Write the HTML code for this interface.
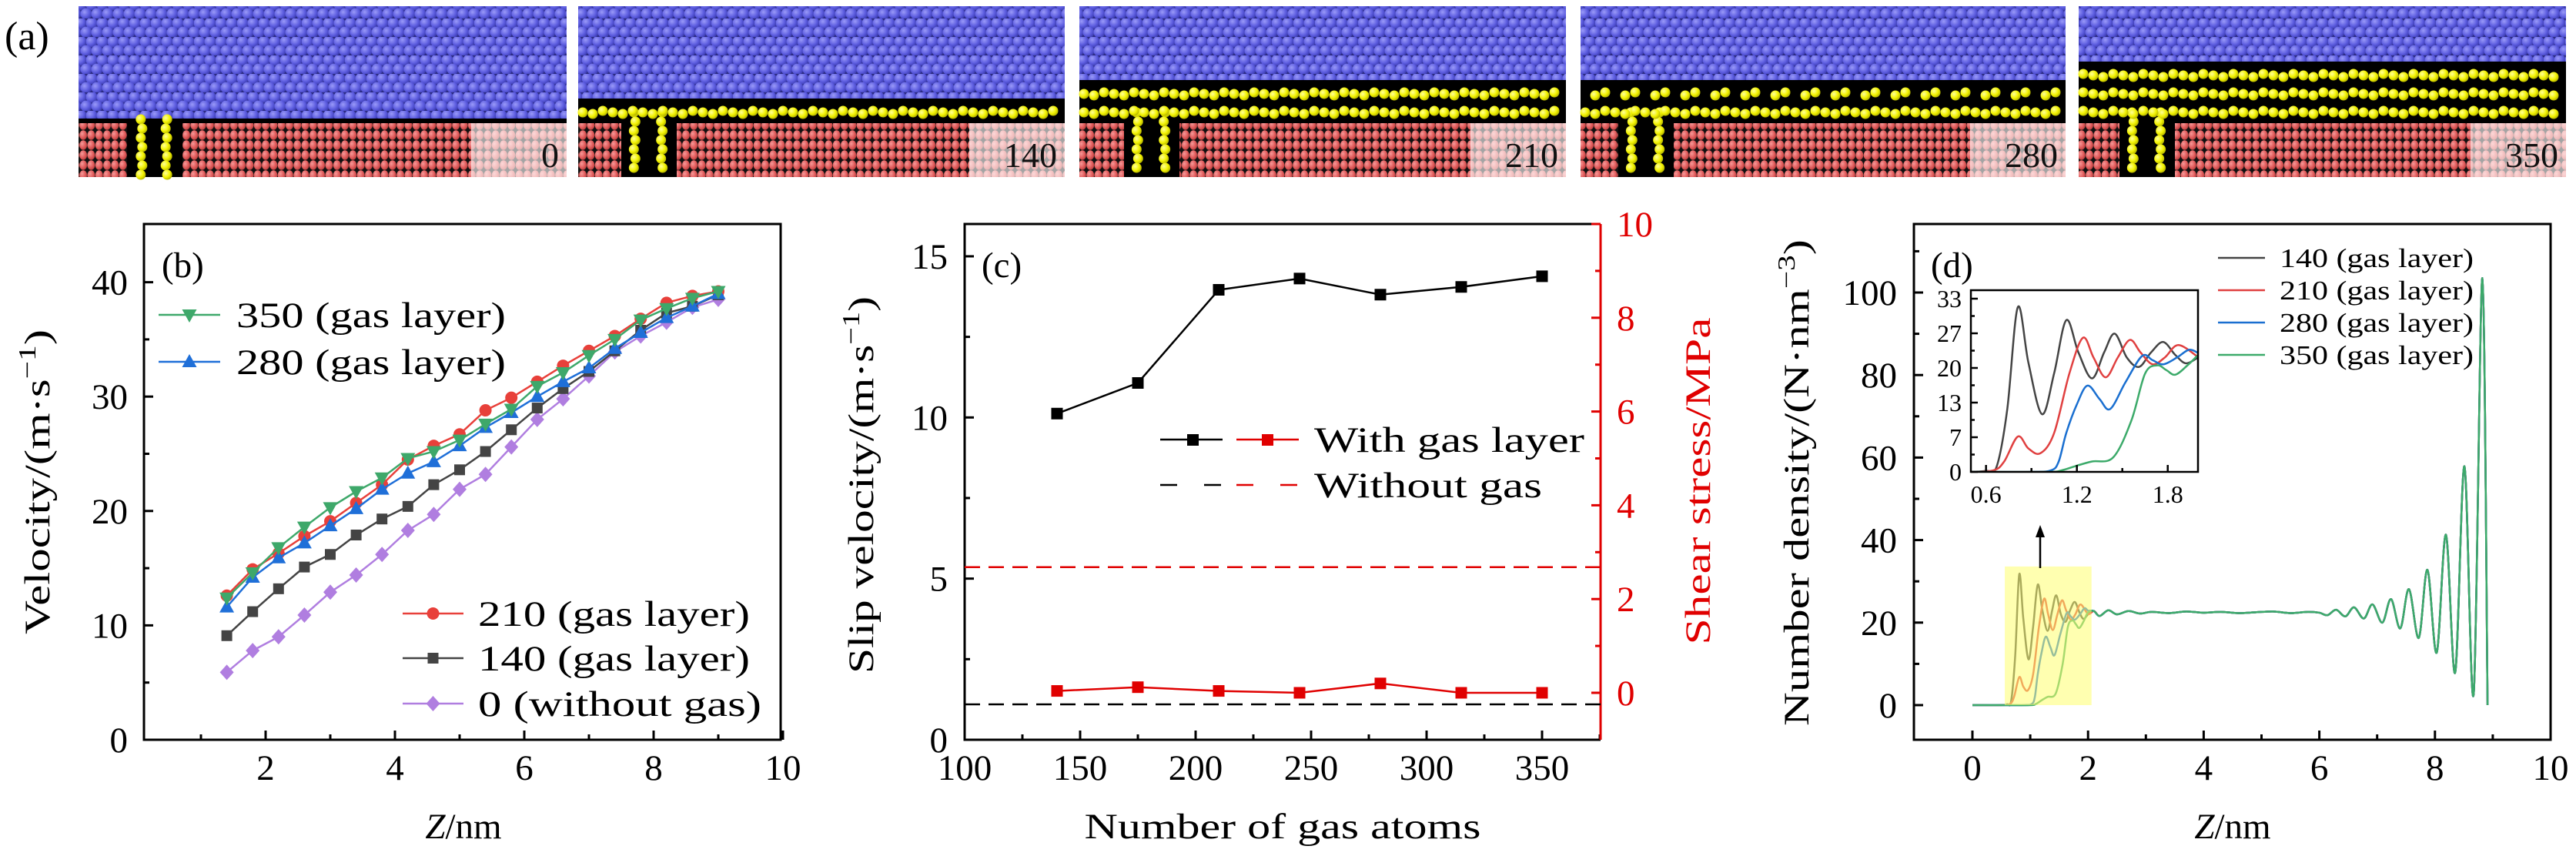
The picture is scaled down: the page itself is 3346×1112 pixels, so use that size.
<!DOCTYPE html>
<html><head><meta charset="utf-8">
<style>
html,body{margin:0;padding:0;background:#fff;}
svg{display:block;font-family:"Liberation Serif",serif;}
text{font-family:"Liberation Serif",serif;}
</style></head>
<body>
<svg id="fig" xmlns="http://www.w3.org/2000/svg" width="3346" height="1112" viewBox="0 0 3346 1112" font-family="Liberation Serif, serif">
<defs>
  <radialGradient id="gBlue" cx="0.35" cy="0.35" r="0.7"><stop offset="0" stop-color="#9a9af8"/><stop offset="0.6" stop-color="#5d5de0"/><stop offset="1" stop-color="#3b3bb0"/></radialGradient>
  <radialGradient id="gRed" cx="0.35" cy="0.35" r="0.7"><stop offset="0" stop-color="#f59a9a"/><stop offset="0.6" stop-color="#e25c5c"/><stop offset="1" stop-color="#b84040"/></radialGradient>
  <radialGradient id="gYel" cx="0.35" cy="0.35" r="0.7"><stop offset="0" stop-color="#ffff9a"/><stop offset="0.6" stop-color="#f2f200"/><stop offset="1" stop-color="#b0b000"/></radialGradient>
  <pattern id="pBlue" width="28" height="24" patternUnits="userSpaceOnUse">
    <rect width="28" height="24" fill="#2a2a80"/>
    <circle cx="7" cy="6" r="7.5" fill="url(#gBlue)"/><circle cx="21" cy="6" r="7.5" fill="url(#gBlue)"/>
    <circle cx="0" cy="18" r="7.5" fill="url(#gBlue)"/><circle cx="14" cy="18" r="7.5" fill="url(#gBlue)"/><circle cx="28" cy="18" r="7.5" fill="url(#gBlue)"/>
  </pattern>
  <pattern id="pRed" width="10.3" height="13" patternUnits="userSpaceOnUse">
    <rect width="10.3" height="13" fill="#111"/>
    <ellipse cx="5.15" cy="6.5" rx="5" ry="6.2" fill="url(#gRed)"/>
  </pattern>
  <clipPath id="clipB"><rect x="187" y="291" width="827" height="670"/></clipPath>
  <clipPath id="clipD"><rect x="2486" y="291" width="827" height="670"/></clipPath>
  <clipPath id="clipI"><rect x="2560" y="377" width="295" height="236"/></clipPath>
</defs>
<g id="panelA"></g>
<g id="panelB"></g>
<g id="panelC"></g>
<g id="panelD"></g>
</svg>
<script>
// ---------- Panel (b) data ----------
const bZ = [1.4,1.8,2.2,2.6,3.0,3.4,3.8,4.2,4.6,5.0,5.4,5.8,6.2,6.6,7.0,7.4,7.8,8.2,8.6,9.0];
const b0 = [5.9,7.8,9.0,10.9,12.9,14.4,16.2,18.3,19.7,21.9,23.2,25.6,28.0,29.8,31.8,33.9,35.3,36.5,37.8,38.5];
const b140 = [9.1,11.2,13.2,15.1,16.2,17.9,19.3,20.4,22.3,23.6,25.2,27.1,29.0,30.7,32.2,34.0,35.8,37.3,37.9,38.9];
const b210 = [12.6,14.9,16.3,17.8,19.1,20.7,22.3,24.5,25.7,26.7,28.8,29.9,31.3,32.7,34.0,35.3,36.8,38.2,38.8,39.2];
const b280 = [11.6,14.2,15.9,17.2,18.7,20.2,21.9,23.3,24.3,25.7,27.3,28.6,30.0,31.3,32.5,34.2,35.6,36.9,37.9,39.0];
const b350 = [12.4,14.6,16.8,18.6,20.3,21.7,22.9,24.6,25.2,26.2,27.6,28.9,30.9,32.1,33.6,35.0,36.7,37.7,38.6,39.2];
const bXTicks = [2,4,6,8,10];
const bYTicks = [0,10,20,30,40];
// ---------- Panel (c) data ----------
const cAtoms = [140,175,210,245,280,315,350];
const cSlip = [10.12,11.07,13.96,14.31,13.81,14.05,14.38];
const cStress = [0.04,0.12,0.04,0.0,0.2,0.0,0.0];
const cSlipNoGas = 1.1;
const cStressNoGas = 2.68;
const cXTicks = [100,150,200,250,300,350];
const cYTicks = [0,5,10,15];
const cY2Ticks = [0,2,4,6,8,10];
// ---------- Panel (d) data ----------
const i140z = [0.5,0.6,0.67,0.74,0.81,0.88,0.97,1.05,1.13,1.21,1.30,1.38,1.45,1.53,1.61,1.69,1.77,1.85,1.92,2.0];
const i140v = [0,0.2,1,12,31.7,21,11.1,19,29.2,23,18,23,26.6,22,20.2,23,25,22.5,20.9,22];
const i210z = [0.5,0.65,0.72,0.81,0.88,0.96,1.05,1.15,1.24,1.31,1.39,1.47,1.55,1.62,1.70,1.78,1.87,2.0];
const i210v = [0,0.3,2,6.8,4.5,3.6,7.5,18.9,25.8,22,18.2,22,25.4,23,20.7,22,24.4,22.1];
const i280z = [0.5,0.9,1.03,1.08,1.13,1.2,1.27,1.35,1.42,1.52,1.63,1.70,1.77,1.86,1.94,2.0];
const i280v = [0,0,0.3,2,7.5,13,16.6,14,12.1,17.2,22.3,21.5,20.7,22,23.5,22.9];
const i350z = [0.5,1.0,1.1,1.2,1.3,1.44,1.56,1.65,1.73,1.79,1.85,1.93,2.0];
const i350v = [0,0,0.3,1.2,2.0,2.8,9.9,18.9,20.5,19.6,18.7,20.5,22.5];
const bulkZ = [2.1,2.2,2.35,2.5,2.7,2.9,3.1,3.4,3.7,4.0,4.3,4.6,4.9,5.2,5.5,5.8,6.0,6.14,6.29,6.45,6.6,6.77,6.92,7.09,7.24,7.40,7.55,7.72,7.87,8.03,8.19,8.35,8.51,8.67,8.82,8.91];
const bulkV = [22.8,21.6,23.0,22.0,22.8,22.2,22.6,22.3,22.7,22.4,22.6,22.3,22.5,22.7,22.3,22.6,22.4,21.8,23.1,21.5,23.7,21.0,24.4,20.0,25.7,18.6,28.1,16.3,32.8,12.7,41.3,7.9,57.9,2.8,103.5,0];
const dXTicks = [0,2,4,6,8,10];
const dYTicks = [0,20,40,60,80,100];
const iXTicks = [0.6,1.2,1.8];
const iYTicks = [0,6.667,13.333,20,26.667,33.333];
const iYLabels = ["0","7","13","20","27","33"];
// ---------- Panel (a) data ----------
const aLabels = ["0","140","210","280","350"];
const aLayers = [0,1,2,2,3];

const NS = "http://www.w3.org/2000/svg";
function mk(tag, attrs, parent){
  const e = document.createElementNS(NS, tag);
  for (const k in attrs) e.setAttribute(k, attrs[k]);
  parent.appendChild(e);
  return e;
}
function txt(str, attrs, parent){
  const e = mk("text", attrs, parent);
  e.textContent = str;
  return e;
}
function smoothPath(pts){
  if (pts.length < 2) return "";
  let d = "M" + pts[0][0].toFixed(2) + "," + pts[0][1].toFixed(2);
  for (let i = 0; i < pts.length - 1; i++){
    const p0 = pts[Math.max(0,i-1)], p1 = pts[i], p2 = pts[i+1], p3 = pts[Math.min(pts.length-1,i+2)];
    const c1x = p1[0] + (p2[0]-p0[0])/6, c1y = p1[1] + (p2[1]-p0[1])/6;
    const c2x = p2[0] - (p3[0]-p1[0])/6, c2y = p2[1] - (p3[1]-p1[1])/6;
    d += " C" + c1x.toFixed(2) + "," + c1y.toFixed(2) + " " + c2x.toFixed(2) + "," + c2y.toFixed(2) + " " + p2[0].toFixed(2) + "," + p2[1].toFixed(2);
  }
  return d;
}

/* ================= PANEL A ================= */
(function(){
  const g = document.getElementById("panelA");
  const lab = txt("(a)", {x: 6, y: 64, "font-size": 52}, g);
  
  
  const x0s = [102, 751, 1402, 2053, 2700];
  const ws = [634, 632, 632, 630, 633];
  const slots = [63, 56, 58, 49, 53];
  const top = 8, bot = 230, redTop = 160;
  for (let p = 0; p < 5; p++){
    const x0 = x0s[p], w = ws[p];
    const sg = mk("g", {}, g);
    
    
    mk("rect", {x: x0, y: top, width: w, height: bot-top, fill: "#000"}, sg);
    const nl = aLayers[p];
    const blueBot = nl === 0 ? 154 : 146 - nl*24 + 6;
    const blue = mk("rect", {x: x0, y: top, width: w, height: blueBot-top, fill: "url(#pBlue)"}, sg);
    
    
    const sx = x0 + slots[p], sw = 72;
    const r1 = mk("rect", {x: x0, y: redTop, width: slots[p], height: bot-redTop, fill: "url(#pRed)"}, sg);
    
    
    const r2 = mk("rect", {x: sx+sw, y: redTop, width: w-slots[p]-sw, height: bot-redTop, fill: "url(#pRed)"}, sg);
    
    
    const yg = mk("g", {fill: "url(#gYel)"}, sg);
    
    
    const yTopCol = nl === 0 ? 155 : 146;
    for (let yy = yTopCol; yy < bot; yy += 12){
      mk("circle", {cx: sx+16 + ((yy/12)%2)*2, cy: yy, r: 6.5}, yg);
      mk("circle", {cx: sx+sw-18 - ((yy/12)%2)*2, cy: yy, r: 6.5}, yg);
    }
    for (let L = 0; L < nl; L++){
      const ry = 146 - L*24;
      for (let xx = x0+6; xx < x0+w-4; xx += 13){
        if (p === 3 && L === 1 && ((xx - x0) % 39) < 13) continue;
        mk("circle", {cx: xx, cy: ry + ((Math.round(xx)%3)-1)*2, r: 6.5}, yg);
      }
    }
    const bx = mk("rect", {x: x0+w-124, y: redTop, width: 124, height: bot-redTop, fill: "#fff", "fill-opacity": 0.62}, sg);
    
    
    const t = txt(aLabels[p], {x: x0+w-10, y: 217, "font-size": 46, "text-anchor": "end", fill: "#111"}, sg);
    
    
  }
})();

/* ================= PANEL B ================= */
(function(){
  const g = document.getElementById("panelB");
  const xb = v => 177 + v*84;
  const yb = v => 961 - v*14.86;
  const L = 187, R = 1014, T = 291, B = 961;
  const ax = mk("g", {stroke: "#000", "stroke-width": 3, fill: "none"}, g);
  
  
  mk("rect", {x: L, y: T, width: R-L, height: B-T}, ax);
  for (let v = 1; v <= 10; v++){
    const x = xb(v); const len = v % 2 === 0 ? 12 : 7;
    mk("line", {x1: x, y1: B, x2: x, y2: B-len}, ax);
  }
  for (let v = 5; v <= 40; v += 5){
    const y = yb(v); const len = v % 10 === 0 ? 12 : 7;
    mk("line", {x1: L, y1: y, x2: L+len, y2: y}, ax);
  }
  for (const v of bXTicks){
    const t = txt(String(v), {x: xb(v), y: 1013, "font-size": 47, "text-anchor": "middle"}, g);
    
    
  }
  for (const v of bYTicks){
    const t = txt(String(v), {x: 166, y: yb(v)+16, "font-size": 47, "text-anchor": "end"}, g);
    
    
  }
  const xt = txt("", {x: 602, y: 1089, "font-size": 47, "text-anchor": "middle"}, g);
  xt.innerHTML = '<tspan font-style="italic">Z</tspan>/nm';
  
  
  const yt = txt("", {x: 0, y: 0, "font-size": 47, "text-anchor": "middle", transform: "translate(64,626) rotate(-90)", textLength: 396, lengthAdjust: "spacingAndGlyphs"}, g);
  yt.innerHTML = 'Velocity/(m·s<tspan dy="-18" font-size="32">−1</tspan><tspan dy="18">)</tspan>';
  
  
  const pl = txt("(b)", {x: 210, y: 360, "font-size": 47}, g);
  
  

  function marker(parent, shape, x, y, color){
    let e;
    if (shape === "circle") e = mk("circle", {cx: x, cy: y, r: 8, fill: color}, parent);
    else if (shape === "square") e = mk("rect", {x: x-7, y: y-7, width: 14, height: 14, fill: color}, parent);
    else if (shape === "tri-up") e = mk("polygon", {points: `${x},${y-10} ${x+9.5},${y+7} ${x-9.5},${y+7}`, fill: color}, parent);
    else if (shape === "tri-down") e = mk("polygon", {points: `${x},${y+10} ${x+9.5},${y-7} ${x-9.5},${y-7}`, fill: color}, parent);
    else e = mk("polygon", {points: `${x},${y-10} ${x+9},${y} ${x},${y+10} ${x-9},${y}`, fill: color}, parent);
    return e;
  }
  const series = [
    {name: "series-0", vals: b0, color: "#b07ee0", shape: "diamond"},
    {name: "series-140", vals: b140, color: "#444444", shape: "square"},
    {name: "series-210", vals: b210, color: "#e8403a", shape: "circle"},
    {name: "series-280", vals: b280, color: "#1f6fd8", shape: "tri-up"},
    {name: "series-350", vals: b350, color: "#3ea86a", shape: "tri-down"}
  ];
  const plot = mk("g", {"clip-path": "url(#clipB)"}, g);
  for (const s of series){
    const sg = mk("g", {}, plot);
    
    
    const pts = bZ.map((z,i) => xb(z).toFixed(1) + "," + yb(s.vals[i]).toFixed(1)).join(" ");
    const ln = mk("polyline", {points: pts, fill: "none", stroke: s.color, "stroke-width": 2.5}, sg);
    
    
    bZ.forEach((z,i) => {
      const m = marker(sg, s.shape, xb(z), yb(s.vals[i]), s.color);
      
      
    });
  }
  const legends = [
    {s: series[4], y: 409, x1: 206, x2: 286, tx: 307, label: "350 (gas layer)", len: 350},
    {s: series[3], y: 470, x1: 206, x2: 286, tx: 307, label: "280 (gas layer)", len: 350},
    {s: series[2], y: 797, x1: 523, x2: 602, tx: 621, label: "210 (gas layer)", len: 353},
    {s: series[1], y: 855, x1: 523, x2: 602, tx: 621, label: "140 (gas layer)", len: 353},
    {s: series[0], y: 914, x1: 523, x2: 602, tx: 621, label: "0 (without gas)", len: 368}
  ];
  for (const l of legends){
    const lg = mk("g", {}, g);
    
    
    mk("line", {x1: l.x1, y1: l.y, x2: l.x2, y2: l.y, stroke: l.s.color, "stroke-width": 2.5}, lg);
    marker(lg, l.s.shape, (l.x1+l.x2)/2, l.y, l.s.color);
    txt(l.label, {x: l.tx, y: l.y+16, "font-size": 47, textLength: l.len, lengthAdjust: "spacingAndGlyphs"}, lg);
  }
})();

/* ================= PANEL C ================= */
(function(){
  const g = document.getElementById("panelC");
  const xc = v => 1253 + (v-100)*3.0;
  const yl = v => 961 - v*41.87;
  const yr = v => 900 - v*60.9;
  const L = 1253, R = 2079, T = 291, B = 961;
  const ax = mk("g", {stroke: "#000", "stroke-width": 3, fill: "none"}, g);
  
  
  mk("polyline", {points: `${R},${T} ${L},${T} ${L},${B} ${R},${B}`}, ax);
  for (let v = 125; v <= 375; v += 25){
    const x = xc(v); const len = v % 50 === 0 ? 12 : 7;
    mk("line", {x1: x, y1: B, x2: x, y2: B-len}, ax);
  }
  for (let v = 2.5; v <= 15; v += 2.5){
    const y = yl(v); const len = v % 5 === 0 ? 12 : 7;
    mk("line", {x1: L, y1: y, x2: L+len, y2: y}, ax);
  }
  const rax = mk("g", {stroke: "#e00000", "stroke-width": 3, fill: "none"}, g);
  
  
  mk("line", {x1: R, y1: T, x2: R, y2: B}, rax);
  for (let v = 0; v <= 10; v += 1){
    const y = yr(v); const len = v % 2 === 0 ? 12 : 7;
    mk("line", {x1: R, y1: y, x2: R-len, y2: y}, rax);
  }
  for (const v of cXTicks){
    const t = txt(String(v), {x: xc(v), y: 1013, "font-size": 47, "text-anchor": "middle"}, g);
    
    
  }
  for (const v of cYTicks){
    const t = txt(String(v), {x: 1231, y: yl(v)+16, "font-size": 47, "text-anchor": "end"}, g);
    
    
  }
  for (const v of cY2Ticks){
    const t = txt(String(v), {x: 2100, y: yr(v)+16, "font-size": 47, fill: "#e00000"}, g);
    
    
  }
  const xt = txt("Number of gas atoms", {x: 1666, y: 1089, "font-size": 47, "text-anchor": "middle", textLength: 515, lengthAdjust: "spacingAndGlyphs"}, g);
  
  
  const yt = txt("", {x: 0, y: 0, "font-size": 47, "text-anchor": "middle", transform: "translate(1134,630) rotate(-90)", textLength: 490, lengthAdjust: "spacingAndGlyphs"}, g);
  yt.innerHTML = 'Slip velocity/(m·s<tspan dy="-18" font-size="32">−1</tspan><tspan dy="18">)</tspan>';
  
  
  const yt2 = txt("Shear stress/MPa", {x: 0, y: 0, "font-size": 47, "text-anchor": "middle", fill: "#e00000", transform: "translate(2221,625) rotate(-90)", textLength: 425, lengthAdjust: "spacingAndGlyphs"}, g);
  
  
  const pl = txt("(c)", {x: 1275, y: 360, "font-size": 47}, g);
  
  

  const d1 = mk("line", {x1: L, y1: yl(cSlipNoGas), x2: R, y2: yl(cSlipNoGas), stroke: "#000", "stroke-width": 2.5, "stroke-dasharray": "20 11"}, g);
  
  
  const d2 = mk("line", {x1: L, y1: yr(cStressNoGas), x2: R, y2: yr(cStressNoGas), stroke: "#e00000", "stroke-width": 2.5, "stroke-dasharray": "20 11"}, g);
  
  

  const sBlack = mk("g", {}, g);
  
  
  mk("polyline", {points: cAtoms.map((a,i)=>xc(a)+","+yl(cSlip[i])).join(" "), fill: "none", stroke: "#000", "stroke-width": 2.5}, sBlack);
  cAtoms.forEach((a,i) => {
    const m = mk("rect", {x: xc(a)-7.5, y: yl(cSlip[i])-7.5, width: 15, height: 15, fill: "#000"}, sBlack);
    
    
  });
  const sRed = mk("g", {}, g);
  
  
  mk("polyline", {points: cAtoms.map((a,i)=>xc(a)+","+yr(cStress[i])).join(" "), fill: "none", stroke: "#e00000", "stroke-width": 2.5}, sRed);
  cAtoms.forEach((a,i) => {
    const m = mk("rect", {x: xc(a)-7.5, y: yr(cStress[i])-7.5, width: 15, height: 15, fill: "#e00000"}, sRed);
    
    
  });
  const lg1 = mk("g", {}, g);
  
  
  mk("line", {x1: 1507, y1: 571, x2: 1588, y2: 571, stroke: "#000", "stroke-width": 2.5}, lg1);
  mk("rect", {x: 1542, y: 564, width: 15, height: 15, fill: "#000"}, lg1);
  mk("line", {x1: 1606, y1: 571, x2: 1687, y2: 571, stroke: "#e00000", "stroke-width": 2.5}, lg1);
  mk("rect", {x: 1639, y: 564, width: 15, height: 15, fill: "#e00000"}, lg1);
  txt("With gas layer", {x: 1707, y: 587, "font-size": 47, textLength: 351, lengthAdjust: "spacingAndGlyphs"}, lg1);
  const lg2 = mk("g", {}, g);
  
  
  mk("line", {x1: 1507, y1: 630, x2: 1588, y2: 630, stroke: "#000", "stroke-width": 2.5, "stroke-dasharray": "22 35"}, lg2);
  mk("line", {x1: 1606, y1: 630, x2: 1687, y2: 630, stroke: "#e00000", "stroke-width": 2.5, "stroke-dasharray": "22 35"}, lg2);
  txt("Without gas", {x: 1707, y: 646, "font-size": 47, textLength: 296, lengthAdjust: "spacingAndGlyphs"}, lg2);
})();

/* ================= PANEL D ================= */
(function(){
  const g = document.getElementById("panelD");
  const xd = v => 2562 + v*75.1;
  const yd = v => 916 - v*5.36;
  const xi = v => 2560 + (v-0.5)*196.7;
  const yi = v => 613 - v*6.75;
  const L = 2486, R = 3313, T = 291, B = 961;
  const ax = mk("g", {stroke: "#000", "stroke-width": 3, fill: "none"}, g);
  
  
  mk("rect", {x: L, y: T, width: R-L, height: B-T}, ax);
  for (let v = 0; v <= 9; v++){
    const x = xd(v); const len = v % 2 === 0 ? 12 : 7;
    mk("line", {x1: x, y1: B, x2: x, y2: B-len}, ax);
  }
  for (let v = 0; v <= 110; v += 10){
    const y = yd(v); const len = v % 20 === 0 ? 12 : 7;
    mk("line", {x1: L, y1: y, x2: L+len, y2: y}, ax);
  }
  for (const v of dXTicks){
    const t = txt(String(v), {x: xd(v), y: 1013, "font-size": 47, "text-anchor": "middle"}, g);
    
    
  }
  for (const v of dYTicks){
    const t = txt(String(v), {x: 2464, y: yd(v)+16, "font-size": 47, "text-anchor": "end"}, g);
    
    
  }
  const xt = txt("", {x: 2900, y: 1089, "font-size": 47, "text-anchor": "middle"}, g);
  xt.innerHTML = '<tspan font-style="italic">Z</tspan>/nm';
  
  
  const yt = txt("", {x: 0, y: 0, "font-size": 47, "text-anchor": "middle", transform: "translate(2349,627) rotate(-90)", textLength: 632, lengthAdjust: "spacingAndGlyphs"}, g);
  yt.innerHTML = 'Number density/(N·nm<tspan dy="-18" font-size="32">−3</tspan><tspan dy="18">)</tspan>';
  
  
  const pl = txt("(d)", {x: 2508, y: 360, "font-size": 47}, g);
  
  

  const series = [
    {name: "density-140", z: i140z, v: i140v, color: "#444444", label: "140 (gas layer)"},
    {name: "density-210", z: i210z, v: i210v, color: "#e04040", label: "210 (gas layer)"},
    {name: "density-280", z: i280z, v: i280v, color: "#1a6fd0", label: "280 (gas layer)"},
    {name: "density-350", z: i350z, v: i350v, color: "#3caa6a", label: "350 (gas layer)"}
  ];
  const plot = mk("g", {"clip-path": "url(#clipD)"}, g);
  for (const s of series){
    const pts = [[xd(0), yd(0)]];
    s.z.forEach((z,i) => pts.push([xd(z), yd(s.v[i])]));
    bulkZ.forEach((z,i) => pts.push([xd(z), yd(bulkV[i])]));
    const p = mk("path", {d: smoothPath(pts), fill: "none", stroke: s.color, "stroke-width": 2.5}, plot);
    
    
  }
  const hl = mk("rect", {x: xd(0.56), y: yd(33.6), width: xd(2.06)-xd(0.56), height: yd(0)-yd(33.6), fill: "#ffff70", "fill-opacity": 0.55}, g);
  
  
  const arr = mk("g", {}, g);
  
  
  mk("line", {x1: 2650, y1: 738, x2: 2650, y2: 694, stroke: "#000", "stroke-width": 2.5}, arr);
  mk("polygon", {points: "2650,682 2644,698 2656,698", fill: "#000"}, arr);

  const ins = mk("g", {}, g);
  
  
  mk("rect", {x: 2560, y: 377, width: 295, height: 236, fill: "#fff"}, ins);
  const ic = mk("g", {"clip-path": "url(#clipI)"}, ins);
  for (const s of series){
    const pts = s.z.map((z,i) => [xi(z), yi(s.v[i])]);
    const p = mk("path", {d: smoothPath(pts), fill: "none", stroke: s.color, "stroke-width": 2.5}, ic);
    
    
  }
  const iax = mk("g", {stroke: "#000", "stroke-width": 2.5, fill: "none"}, ins);
  
  
  mk("rect", {x: 2560, y: 377, width: 295, height: 236}, iax);
  for (let v = 0.6; v < 2.0; v += 0.3){
    const x = xi(v); const len = (Math.round(v*10) % 6 === 0) ? 9 : 5;
    mk("line", {x1: x, y1: 613, x2: x, y2: 613-len}, iax);
  }
  for (let k = 0; k <= 10; k++){
    const y = yi(k*3.3333); const len = k % 2 === 0 ? 9 : 5;
    mk("line", {x1: 2560, y1: y, x2: 2560+len, y2: y}, iax);
  }
  iXTicks.forEach(v => {
    const t = txt(v.toFixed(1), {x: xi(v), y: 653, "font-size": 32, "text-anchor": "middle"}, ins);
    
    
  });
  iYTicks.forEach((v,i) => {
    const t = txt(iYLabels[i], {x: 2548, y: yi(v)+11, "font-size": 32, "text-anchor": "end"}, ins);
    
    
  });
  const ly = [335, 377, 419, 461];
  series.forEach((s,i) => {
    const lg = mk("g", {}, g);
    
    
    mk("line", {x1: 2881, y1: ly[i], x2: 2942, y2: ly[i], stroke: s.color, "stroke-width": 2.5}, lg);
    txt(s.label, {x: 2961, y: ly[i]+12, "font-size": 35, textLength: 252, lengthAdjust: "spacingAndGlyphs"}, lg);
  });
})();
</script>
</body></html>
